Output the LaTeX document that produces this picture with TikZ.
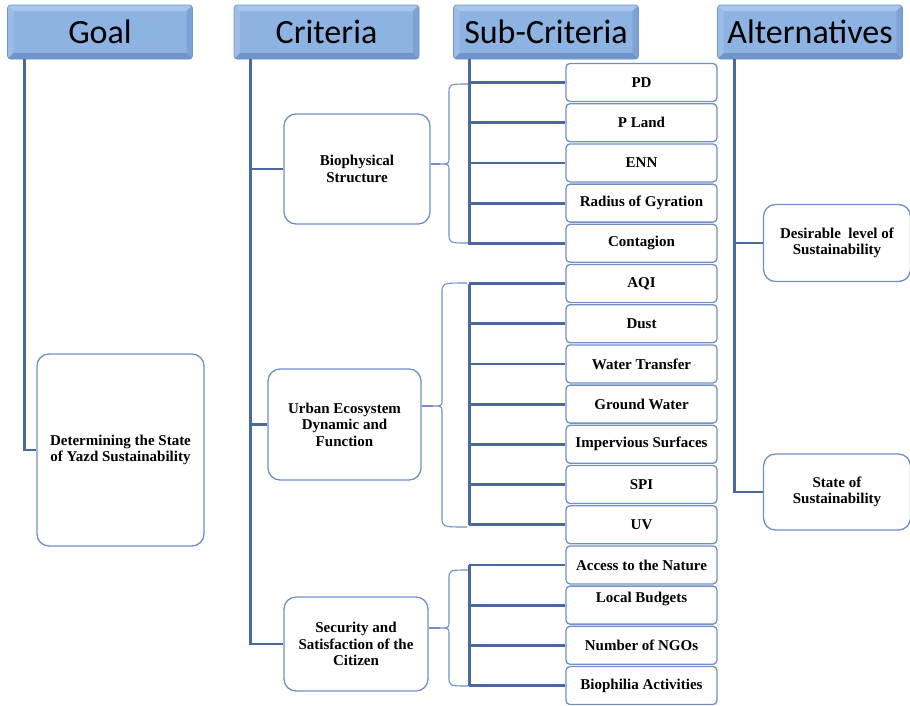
\documentclass[tikz,border=0pt]{standalone}
\usepackage{fontspec}
\setmainfont{Liberation Serif}
\newfontfamily\hdrfont{Carlito}
\usepackage{tikz}
\usetikzlibrary{positioning,calc}
\definecolor{hdrmain}{HTML}{8DB3E2}
\definecolor{hdrtop}{HTML}{A8C6EC}
\definecolor{hdrleft}{HTML}{9BBDE7}
\definecolor{hdrbot}{HTML}{6F95CB}
\definecolor{hdrright}{HTML}{7DA2D6}
\definecolor{linkblue}{HTML}{4A6A9E}
\definecolor{boxblue}{HTML}{6F8FC6}

% curly brace: side x, end x, top y, tip y, bottom y, tip name
\newcommand{\sbrace}[6]{%
  \draw[brc] (#2,#3) .. controls (#1,#3) .. (#1,#3+10) -- (#1,#4-7)
    .. controls (#1,#4) .. (#1-9,#4) coordinate (#6)
    .. controls (#1,#4) .. (#1,#4+7) -- (#1,#5-10) .. controls (#1,#5) .. (#2,#5);}

\begin{document}
\begin{tikzpicture}[x=1pt, y=-1pt,
  font=\bfseries\fontsize{15}{16.5}\selectfont,
  hdr/.style={minimum width=185pt, minimum height=54pt, inner sep=0pt,
    rounded corners=3pt, fill=hdrmain, draw=hdrbot, line width=0.6pt,
    font=\hdrfont\fontsize{34}{40}\selectfont,
    path picture={
      \path (path picture bounding box.north west) coordinate (pa)
            (path picture bounding box.south east) coordinate (pb);
      \fill[hdrtop, sharp corners] (pa) -- (pa -| pb) -- ($(pa -| pb)+(-6,6)$) -- ($(pa)+(6,6)$) -- cycle;
      \fill[hdrleft, sharp corners] (pa) -- ($(pa)+(6,6)$) -- ($(pa |- pb)+(6,-6)$) -- (pa |- pb) -- cycle;
      \fill[hdrbot, sharp corners] (pa |- pb) -- (pb) -- ($(pb)+(-6,-6)$) -- ($(pa |- pb)+(6,-6)$) -- cycle;
      \fill[hdrright, sharp corners] (pa -| pb) -- (pb) -- ($(pb)+(-6,-6)$) -- ($(pa -| pb)+(-6,6)$) -- cycle;
    }},
  box/.style={draw=boxblue, line width=1.3pt, rounded corners=12pt, align=center, inner sep=2pt},
  sbox/.style={draw=boxblue, line width=1.3pt, rounded corners=4pt, align=center,
    minimum width=151pt, minimum height=38pt, inner sep=2pt},
  ln/.style={draw=linkblue, line width=2.8pt},
  brc/.style={draw=boxblue, line width=1.1pt}]
\useasboundingbox (0,0) rectangle (910,705);
% column headers
\node[hdr] (goal) at (100,32) {Goal};
\node[hdr] (crit) at (326.5,32) {Criteria};
\node[hdr] (sub) at (546,32) {Sub-Criteria};
\node[hdr] (alt) at (810,32) {Alternatives};
% goal
\node[box, minimum width=167pt, minimum height=192pt] (det) at (120.5,450)
  {Determining the State\\of Yazd Sustainability};
% criteria
\node[box, minimum width=146pt, minimum height=110pt] (bio) at (357,169) {Biophysical\\Structure};
\node[box, minimum width=153pt, minimum height=111pt] (urb) at (344.5,424.5)
  {Urban Ecosystem\\Dynamic and\\Function};
\node[box, minimum width=144pt, minimum height=94pt] (sec) at (356,644)
  {Security and\\Satisfaction of the\\Citizen};
% sub-criteria
\foreach \i/\txt in {0/PD, 1/P Land, 2/ENN, 3/Radius of Gyration, 4/Contagion,
    5/AQI, 6/Dust, 7/Water Transfer, 8/Ground Water, 9/Impervious Surfaces,
    10/SPI, 11/UV, 12/Access to the Nature, 13/Local Budgets\\\mbox{},
    14/Number of NGOs, 15/Biophilia Activities}
  \node[sbox] (s\i) at (641.5,82.5+40.2*\i) {\txt};
% alternatives
\node[box, minimum width=147pt, minimum height=77pt] (des) at (837,243)
  {Desirable~ level of\\Sustainability};
\node[box, minimum width=147pt, minimum height=76pt] (sta) at (837,492)
  {State of\\Sustainability};
% trunks
\coordinate (gt) at ([xshift=17pt]goal.south west);
\coordinate (ct) at ([xshift=17pt]crit.south west);
\coordinate (st) at ([xshift=16pt]sub.south west);
\coordinate (at) at ([xshift=17pt]alt.south west);
\draw[ln] (gt) |- (det.west);
\draw[ln] (ct) |- (sec.west);
\draw[ln] (ct |- bio.west) -- (bio.west);
\draw[ln] (ct |- urb.west) -- (urb.west);
\draw[ln] (st) |- (s4.west);
\draw[ln] (st |- s5.west) -- (st |- s11.west);
\draw[ln] (st |- s12.west) -- (st |- s15.west);
\foreach \i in {0,...,15}
  \draw[ln] (st |- s\i.west) -- (s\i.west);
\draw[ln] (at) |- (sta.west);
\draw[ln] (at |- des.west) -- (des.west);
% braces
\sbrace{449}{468}{84}{164}{243}{b1}
\sbrace{442}{467}{283}{406}{527}{b2}
\sbrace{449}{468}{570}{628}{686}{b3}
\draw[brc] (bio.east |- b1) -- (b1);
\draw[brc] (urb.east |- b2) -- (b2);
\draw[brc] (sec.east |- b3) -- (b3);
\end{tikzpicture}
\end{document}
